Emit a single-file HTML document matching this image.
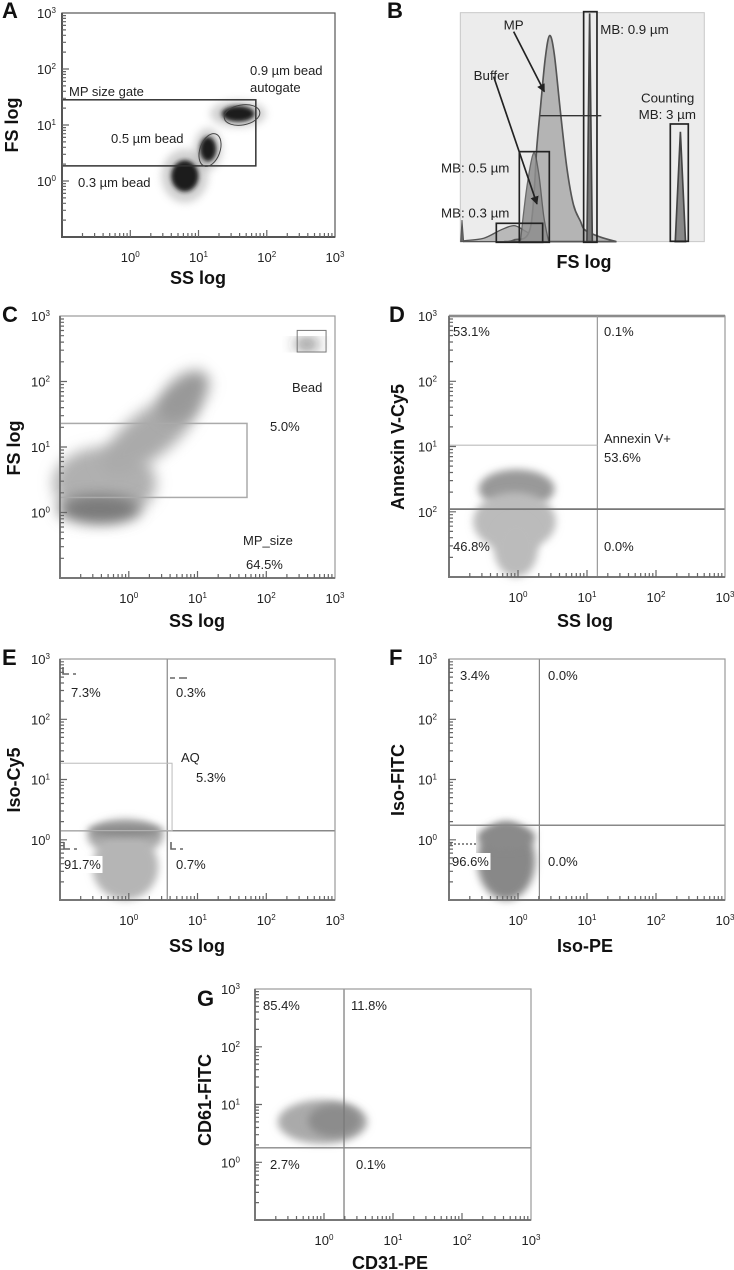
<!DOCTYPE html>
<html><head><meta charset="utf-8">
<style>
html,body{margin:0;padding:0;background:#fff;}
svg{display:block;font-family:"Liberation Sans",Arial,sans-serif;}
</style></head>
<body>
<svg id="fig" width="734" height="1270" viewBox="0 0 734 1270" xmlns="http://www.w3.org/2000/svg">
<defs>
<filter id="blur4" x="-50%" y="-50%" width="200%" height="200%"><feGaussianBlur stdDeviation="4"/></filter>
<filter id="blur6" x="-50%" y="-50%" width="200%" height="200%"><feGaussianBlur stdDeviation="7"/></filter>
<filter id="blur2" x="-50%" y="-50%" width="200%" height="200%"><feGaussianBlur stdDeviation="2"/></filter>
<marker id="arr" viewBox="0 0 10 10" refX="9" refY="5" markerWidth="5" markerHeight="5" orient="auto"><path d="M0,0L10,5L0,10z" fill="#222"/></marker>
</defs>
</svg>
<script>
// ---------- shared tick data ----------
const tickExps = ["0","1","2","3"];
const yTickExps = ["3","2","1","0"];
const yTickExpsD = ["3","2","1","2"];

// ---------- Panel A data (log10 units) ----------
const aClusterNames = ["bead-0-3um","bead-0-5um","bead-0-9um"];
const aClusterX = [0.80, 1.14, 1.58];
const aClusterY = [0.09, 0.57, 1.20];
const aClusterRX = [0.20, 0.12, 0.24];
const aClusterRY = [0.28, 0.22, 0.14];
const aGateX = [-1.0, 1.84];
const aGateY = [0.27, 1.45];

// ---------- Panel B data (channel 0-100, counts 0-100) ----------
const bMPch = [18, 22, 28.7, 31.4, 32.8, 34.8, 36.6, 38.5, 41, 43.7, 46.4, 49.2, 51.2, 57.4, 64];
const bMPct = [0, 0.7, 6, 42, 58, 80, 90, 82, 57, 32, 16, 9, 5, 2, 0];
const bBufCh = [1.4, 9.6, 16.4, 21.9, 26, 31.4, 34.2];
const bBufCt = [0.4, 1.5, 5, 7, 5, 1.5, 0];
const bB05Ch = [24.6, 27.3, 30, 32.1, 34.2, 36.2];
const bB05Ct = [0, 24, 38.6, 30, 11, 0];
const bB09Ch = [51.9, 53, 54.1];
const bB09Ct = [0, 99.7, 0];
const bCntCh = [88.1, 90.2, 92.3];
const bCntCt = [0, 48, 0];

// ---------- Panel C data ----------
const cClX = [-0.35, 0.31, 0.80, -0.43, 2.59];
const cClY = [0.45, 1.20, 1.78, 0.05, 2.57];
const cClRX = [0.75, 0.85, 0.45, 0.60, 0.18];
const cClRY = [0.55, 0.35, 0.28, 0.22, 0.06];
const cClRot = [0, -38, -45, 0, 0];
const cClShade = ["#b0b0b0","#aaa","#999","#7a7a7a","#333"];
const cGateX = [-1.0, 1.72];
const cGateY = [0.23, 1.36];

// ---------- Panel D data ----------
const dClX = [-0.02, -0.05, -0.03];
const dClY = [0.35, -0.15, -0.55];
const dClRX = [0.55, 0.60, 0.32];
const dClRY = [0.30, 0.45, 0.45];
const dClShade = ["#999","#bbb","#bbb"];
const dQuadX = 1.15, dQuadY = 0.04, dGateY = 1.02;

// ---------- Panel E data ----------
const eClX = [-0.05, -0.05, -0.05];
const eClY = [0.05, -0.45, 0.15];
const eClRX = [0.55, 0.48, 0.55];
const eClRY = [0.30, 0.55, 0.10];
const eClShade = ["#aaa","#b5b5b5","#888"];
const eQuadX = 0.56, eQuadY = 0.15;
const eAQX = [-1.0, 0.63], eAQY = [0.15, 1.27];

// ---------- Panel F data ----------
const fClX = [-0.17, -0.17];
const fClY = [-0.35, 0.05];
const fClRX = [0.42, 0.42];
const fClRY = [0.65, 0.20];
const fClShade = ["#888","#8a8a8a"];
const fQuadX = 0.31, fQuadY = 0.24;

// ---------- Panel G data ----------
const gClX = [-0.02, 0.15];
const gClY = [0.70, 0.72];
const gClRX = [0.65, 0.38];
const gClRY = [0.38, 0.28];
const gClShade = ["#aaa","#8c8c8c"];
const gQuadX = 0.29, gQuadY = 0.25;

const NS = "http://www.w3.org/2000/svg";
const svg = document.getElementById("fig");
function mk(tag, attrs, parent) {
  const e = document.createElementNS(NS, tag);
  for (const k in attrs) e.setAttribute(k, attrs[k]);
  (parent || svg).appendChild(e);
  return e;
}
function sx(p, v) { return p.L + (v + 1) / 4 * (p.R - p.L); }
function sy(p, v) { return p.B - (v + 1) / 4 * (p.B - p.T); }

function supText(parent, x, y, exp, anchor, size) {
  const t = mk("text", {x: x, y: y, "font-size": size, "text-anchor": anchor, fill: "#222"}, parent);
  
  
  t.appendChild(document.createTextNode("10"));
  const s = mk("tspan", {dy: -5, "font-size": size * 0.62}, t);
  s.textContent = exp;
  return t;
}

function drawPanel(p) {
  const g = mk("g", {});
  
  
  const letter = mk("text", {x: p.letterX, y: p.letterY, "font-size": 22, "font-weight": "bold", fill: "#111"}, g);
  
  
  letter.textContent = p.id;
  const bg = mk("rect", {x: p.L, y: p.T, width: p.R - p.L, height: p.B - p.T, fill: "#fff"}, g);
  
  
  const plot = mk("g", {}, g);
  
  
  p.plot = plot;
  const fr = mk("rect", {x: p.L, y: p.T, width: p.R - p.L, height: p.B - p.T, fill: "none", stroke: p.frame || "#999", "stroke-width": 1.2}, g);
  
  
  const ax = mk("path", {d: `M${p.L},${p.T}V${p.B}H${p.R}`, fill: "none", stroke: p.axis || "#777", "stroke-width": 2}, g);
  
  
  let d = "";
  for (let dec = -1; dec < 3; dec++) {
    for (let k = 1; k <= 9; k++) {
      const v = dec + Math.log10(k);
      const len = k === 1 ? 7 : 4;
      if (dec > -1 || k > 1) {
        const X = sx(p, v); d += `M${X.toFixed(1)},${p.B}v${-len}`;
        const Y = sy(p, v); d += `M${p.L},${Y.toFixed(1)}h${len}`;
      }
    }
  }
  const tk = mk("path", {d: d, stroke: "#666", "stroke-width": 1.2, fill: "none"}, g);
  
  
  tickExps.forEach((e, i) => supText(g, sx(p, i), p.B + 25, e, "middle", 13));
  const ye = p.yExps || yTickExps;
  ye.forEach((e, i) => supText(g, p.L - p.yLabOff, sy(p, 3 - i) + 5, e, "end", 13));
  const xt = mk("text", {x: p.xTitleX, y: p.xTitleY, "font-size": 18, "font-weight": "bold", "text-anchor": "middle", fill: "#111"}, g);
  
  
  xt.textContent = p.xTitle;
  const yt = mk("text", {x: 0, y: 0, "font-size": 18, "font-weight": "bold", "text-anchor": "middle", fill: "#111", transform: `translate(${p.yTitleX},${p.yTitleY}) rotate(-90)`}, g);
  
  
  yt.textContent = p.yTitle;
  return g;
}

function clusters(p, X, Y, RX, RY, shade, rot, filt) {
  X.forEach((x, i) => {
    const cx = sx(p, x), cy = sy(p, Y[i]);
    const rx = RX[i] / 4 * (p.R - p.L), ry = RY[i] / 4 * (p.B - p.T);
    const r = rot ? rot[i] : 0;
    const e = mk("ellipse", {cx: cx, cy: cy, rx: rx, ry: ry, fill: shade[i], filter: `url(#${filt || "blur4"})`, transform: `rotate(${r},${cx},${cy})`}, p.plot);
    
    
  });
}
function line(p, x1, y1, x2, y2, col, w, name) {
  const l = mk("line", {x1: sx(p, x1), y1: sy(p, y1), x2: sx(p, x2), y2: sy(p, y2), stroke: col, "stroke-width": w}, p.plot);
  
  
}
function gateRect(p, gx, gy, col, w, name) {
  const r = mk("rect", {x: sx(p, gx[0]), y: sy(p, gy[1]), width: sx(p, gx[1]) - sx(p, gx[0]), height: sy(p, gy[0]) - sy(p, gy[1]), fill: "none", stroke: col, "stroke-width": w}, p.plot);
  
  
}
function label(parent, x, y, txt, size, name, white) {
  if (white) {
    const w = mk("rect", {x: x - 3, y: y - 13, width: txt.length * 7.5 + 4, height: 17, fill: "#fff"}, parent);
    
    
  }
  const t = mk("text", {x: x, y: y, "font-size": size || 13, fill: "#222"}, parent);
  
  
  t.textContent = txt;
}

// ================= Panel A =================
const pA = {id: "A", L: 62, R: 335, T: 13, B: 237, letterX: 2, letterY: 18, yLabOff: 6,
  xTitle: "SS log", xTitleX: 198, xTitleY: 284, yTitle: "FS log", yTitleX: 18, yTitleY: 125, frame: "#555", axis: "#555"};
drawPanel(pA);
aClusterX.forEach((x, i) => {
  const cx = sx(pA, x), cy = sy(pA, aClusterY[i]);
  const rx = aClusterRX[i] / 4 * 273, ry = aClusterRY[i] / 4 * 224;
  const halo = mk("ellipse", {cx: cx, cy: cy, rx: rx * 1.7, ry: ry * 1.7, fill: "#999", opacity: 0.45, filter: "url(#blur4)"}, pA.plot);
  
  
  const core = mk("ellipse", {cx: cx, cy: cy, rx: rx, ry: ry, fill: "#1a1a1a", filter: "url(#blur2)"}, pA.plot);
  
  
});
gateRect(pA, aGateX, aGateY, "#333", 1.5, "mp-size-gate");
{
  const e1 = mk("ellipse", {cx: 210, cy: 150, rx: 10, ry: 17, fill: "none", stroke: "#444", "stroke-width": 1, transform: "rotate(20,210,150)"}, pA.plot);
  
  
  const e2 = mk("ellipse", {cx: 242, cy: 115, rx: 18, ry: 10, fill: "none", stroke: "#444", "stroke-width": 1, transform: "rotate(-10,242,115)"}, pA.plot);
  
  
}
label(pA.plot, 69, 96, "MP size gate", 13);
label(pA.plot, 250, 75, "0.9 µm bead", 13);
label(pA.plot, 250, 92, "autogate", 13);
label(pA.plot, 111, 143, "0.5 µm bead", 13);
label(pA.plot, 78, 187, "0.3 µm bead", 13);

// ================= Panel B =================
{
  const gB = mk("g", {});
  
  
  const lt = mk("text", {x: 387, y: 18, "font-size": 22, "font-weight": "bold", fill: "#111"}, gB);
  
  
  lt.textContent = "B";
  const g = mk("g", {transform: "translate(367,0) scale(0.3333)"}, gB);
  
  
  const bx = c => 280 + c * 7.32, by = c => 725 - c * 6.87;
  const bg = mk("rect", {x: 280, y: 38, width: 732, height: 687, fill: "#ececec", stroke: "#c8c8c8", "stroke-width": 3}, g);
  
  
  function smooth(chs, cts) {
    const pts = chs.map((c, i) => [bx(c), by(cts[i])]);
    let d = `M${pts[0][0]},${725}L${pts[0][0]},${pts[0][1]}`;
    for (let i = 0; i < pts.length - 1; i++) {
      const p0 = pts[Math.max(0, i - 1)], p1 = pts[i], p2 = pts[i + 1], p3 = pts[Math.min(pts.length - 1, i + 2)];
      const c1 = [p1[0] + (p2[0] - p0[0]) / 6, p1[1] + (p2[1] - p0[1]) / 6];
      const c2 = [p2[0] - (p3[0] - p1[0]) / 6, p2[1] - (p3[1] - p1[1]) / 6];
      d += `C${c1[0]},${c1[1]} ${c2[0]},${c2[1]} ${p2[0]},${p2[1]}`;
    }
    return d + `L${pts[pts.length - 1][0]},725Z`;
  }
  function poly(chs, cts) {
    return "M" + chs.map((c, i) => `${bx(c)},${by(cts[i])}`).join("L") + "Z";
  }
  const buf = mk("path", {d: smooth(bBufCh, bBufCt), fill: "#b9b9b9", stroke: "#555", "stroke-width": 4}, g);
  
  
  const mp = mk("path", {d: smooth(bMPch, bMPct), fill: "#b4b4b4", stroke: "#555", "stroke-width": 5}, g);
  
  
  const b05 = mk("path", {d: smooth(bB05Ch, bB05Ct), fill: "#8e8e8e", stroke: "#555", "stroke-width": 4, opacity: 0.85}, g);
  
  
  const b09 = mk("path", {d: poly(bB09Ch, bB09Ct), fill: "#777", stroke: "#444", "stroke-width": 5}, g);
  
  
  const cnt = mk("path", {d: poly(bCntCh, bCntCt), fill: "#888", stroke: "#444", "stroke-width": 5}, g);
  
  
  const spike = mk("path", {d: "M281,725L285,660L290,725Z", fill: "#666", stroke: "#555", "stroke-width": 3}, g);
  
  
  const boxes = [["mb-0-9um-gate", 650, 35, 40, 692], ["counting-gate", 910, 372, 54, 352], ["mb-0-5um-gate", 457, 455, 90, 272], ["mb-0-3um-gate", 388, 670, 139, 57]];
  boxes.forEach(b => {
    const r = mk("rect", {x: b[1], y: b[2], width: b[3], height: b[4], fill: "none", stroke: "#222", "stroke-width": 5}, g);
    
    
  });
  const hl = mk("line", {x1: 520, y1: 347, x2: 703, y2: 347, stroke: "#333", "stroke-width": 4}, g);
  
  
  const a1 = mk("line", {x1: 440, y1: 95, x2: 532, y2: 275, stroke: "#222", "stroke-width": 5, "marker-end": "url(#arr)"}, g);
  
  
  const a2 = mk("line", {x1: 380, y1: 230, x2: 510, y2: 612, stroke: "#222", "stroke-width": 5, "marker-end": "url(#arr)"}, g);
  
  
  [["MP", 410, 77], ["MB: 0.9 µm", 700, 90], ["Buffer", 320, 228], ["Counting", 822, 295], ["MB: 3 µm", 815, 345], ["MB: 0.5 µm", 222, 505], ["MB: 0.3 µm", 222, 640]]
    .forEach(t => label(g, t[1], t[2] + 12, t[0], 40, 'histogram-label'));
  const xt = mk("text", {x: 584, y: 268, "font-size": 18, "font-weight": "bold", "text-anchor": "middle", fill: "#111"}, gB);
  
  
  xt.textContent = "FS log";
}

// ================= Panel C =================
const pC = {id: "C", L: 60, R: 335, T: 316, B: 578, letterX: 2, letterY: 322, yLabOff: 10,
  xTitle: "SS log", xTitleX: 197, xTitleY: 627, yTitle: "FS log", yTitleX: 20, yTitleY: 448};
drawPanel(pC);
clusters(pC, cClX, cClY, cClRX, cClRY, cClShade, cClRot, "blur6");
gateRect(pC, cGateX, cGateY, "#aaa", 1.5, "mp-size-gate");
gateRect(pC, [2.45, 2.87], [2.45, 2.78], "#777", 1, "bead-gate");
label(pC.plot, 292, 392, "Bead");
label(pC.plot, 270, 431, "5.0%");
label(pC.plot, 243, 545, "MP_size");
label(pC.plot, 246, 569, "64.5%");

// ================= Panel D =================
const pD = {id: "D", L: 449, R: 725, T: 316, B: 577, letterX: 389, letterY: 322, yLabOff: 12, yExps: yTickExpsD,
  xTitle: "SS log", xTitleX: 585, xTitleY: 627, yTitle: "Annexin V-Cy5", yTitleX: 404, yTitleY: 447};
drawPanel(pD);
clusters(pD, dClX, dClY, dClRX, dClRY, dClShade);
line(pD, -1, 3, 3, 3, "#777", 2.5, "top-border");
line(pD, dQuadX, -1, dQuadX, 3, "#999", 1.2, "quadrant-vertical");
line(pD, -1, dQuadY, 3, dQuadY, "#777", 1.8, "quadrant-horizontal");
line(pD, -1, dGateY, dQuadX, dGateY, "#bbb", 1.2, "annexin-gate-line");
label(pD.plot, 453, 336, "53.1%");
label(pD.plot, 604, 336, "0.1%");
label(pD.plot, 604, 443, "Annexin V+");
label(pD.plot, 604, 462, "53.6%");
label(pD.plot, 453, 551, "46.8%");
label(pD.plot, 604, 551, "0.0%");

// ================= Panel E =================
const pE = {id: "E", L: 60, R: 335, T: 659, B: 900, letterX: 2, letterY: 665, yLabOff: 10,
  xTitle: "SS log", xTitleX: 197, xTitleY: 952, yTitle: "Iso-Cy5", yTitleX: 20, yTitleY: 780};
drawPanel(pE);
clusters(pE, eClX, eClY, eClRX, eClRY, eClShade);
line(pE, eQuadX, -1, eQuadX, 3, "#888", 1.2, "quadrant-vertical");
line(pE, -1, eQuadY, 3, eQuadY, "#888", 1.5, "quadrant-horizontal");
gateRect(pE, eAQX, eAQY, "#bbb", 1, "aq-gate");
{
  const m = mk("path", {d: "M63,667v7h6M73,674h3M170,678h5M179,678h8M64,842v7h6M74,849h3M171,842v7h5M180,849h3", stroke: "#666", "stroke-width": 1.6, fill: "none"}, pE.plot);
  
  
}
label(pE.plot, 71, 697, "7.3%");
label(pE.plot, 176, 697, "0.3%");
label(pE.plot, 181, 762, "AQ");
label(pE.plot, 196, 782, "5.3%");
label(pE.plot, 64, 869, "91.7%", 13, 'gate-label', true);
label(pE.plot, 176, 869, "0.7%");

// ================= Panel F =================
const pF = {id: "F", L: 449, R: 725, T: 659, B: 900, letterX: 389, letterY: 665, yLabOff: 12,
  xTitle: "Iso-PE", xTitleX: 585, xTitleY: 952, yTitle: "Iso-FITC", yTitleX: 404, yTitleY: 780};
drawPanel(pF);
clusters(pF, fClX, fClY, fClRX, fClRY, fClShade);
{
  const w = mk("rect", {x: 450, y: 826, width: 26, height: 27, fill: "#fff"}, pF.plot);
  
  
  const dl = mk("line", {x1: 450, y1: 844, x2: 476, y2: 844, stroke: "#666", "stroke-width": 1.5, "stroke-dasharray": "2,2"}, pF.plot);
  
  
}
line(pF, fQuadX, -1, fQuadX, 3, "#888", 1.2, "quadrant-vertical");
line(pF, -1, fQuadY, 3, fQuadY, "#888", 1.5, "quadrant-horizontal");
label(pF.plot, 460, 680, "3.4%");
label(pF.plot, 548, 680, "0.0%");
label(pF.plot, 452, 866, "96.6%", 13, 'gate-label', true);
label(pF.plot, 548, 866, "0.0%");

// ================= Panel G =================
const pG = {id: "G", L: 255, R: 531, T: 989, B: 1220, letterX: 197, letterY: 1006, yLabOff: 15,
  xTitle: "CD31-PE", xTitleX: 390, xTitleY: 1269, yTitle: "CD61-FITC", yTitleX: 211, yTitleY: 1100};
drawPanel(pG);
clusters(pG, gClX, gClY, gClRX, gClRY, gClShade);
line(pG, gQuadX, -1, gQuadX, 3, "#777", 1.2, "quadrant-vertical");
line(pG, -1, gQuadY, 3, gQuadY, "#888", 1.3, "quadrant-horizontal");
label(pG.plot, 263, 1010, "85.4%");
label(pG.plot, 351, 1010, "11.8%");
label(pG.plot, 270, 1169, "2.7%");
label(pG.plot, 356, 1169, "0.1%");
</script>
</body></html>
